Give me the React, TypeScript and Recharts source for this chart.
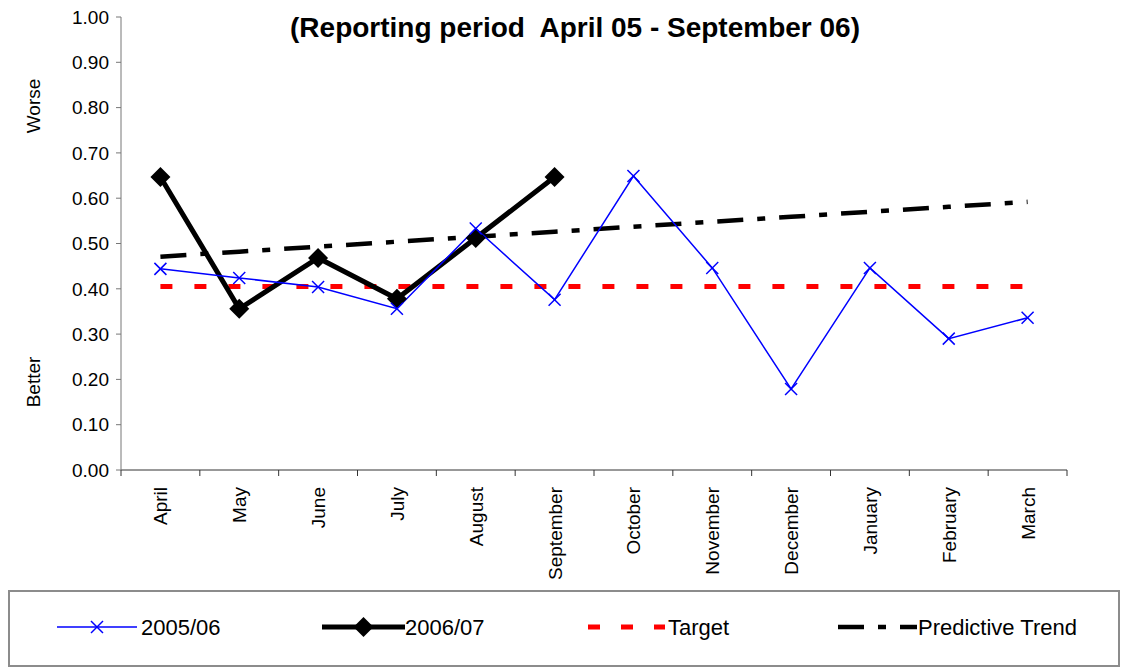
import { LineChart, Line, XAxis, YAxis, Legend } from 'recharts';

const months = ['April', 'May', 'June', 'July', 'August', 'September', 'October', 'November', 'December', 'January', 'February', 'March'];
const values0506 = [0.444, 0.424, 0.404, 0.356, 0.533, 0.376, 0.649, 0.446, 0.179, 0.446, 0.29, 0.336];
const values0607 = [0.647, 0.356, 0.468, 0.378, 0.512, 0.647, null, null, null, null, null, null];
const targetValues = [0.405, 0.405, 0.405, 0.405, 0.405, 0.405, 0.405, 0.405, 0.405, 0.405, 0.405, 0.405];
const trendValues = [0.471, 0.482, 0.493, 0.504, 0.515, 0.526, 0.537, 0.548, 0.559, 0.57, 0.581, 0.592];
const yTicks = [0, 0.1, 0.2, 0.3, 0.4, 0.5, 0.6, 0.7, 0.8, 0.9, 1.0];

const data = months.map((m, i) => ({
  month: m,
  s0506: values0506[i],
  s0607: values0607[i],
  target: targetValues[i],
  trend: trendValues[i],
}));

const FONT = '"Liberation Sans", Arial, sans-serif';
const BLUE = '#0000FF';
const RED = '#FF0000';
const TREND_DASH = '26 14 8 14';
const TARGET_DASH = '12 22';

function Cross(cx: number, cy: number, key?: string | number) {
  const s = 6;
  return (
    <g key={key}>
      <line x1={cx - s} y1={cy - s} x2={cx + s} y2={cy + s} stroke={BLUE} strokeWidth={1.5} />
      <line x1={cx - s} y1={cy + s} x2={cx + s} y2={cy - s} stroke={BLUE} strokeWidth={1.5} />
    </g>
  );
}

function Diamond(cx: number, cy: number, key?: string | number) {
  const s = 10;
  return (
    <path key={key} d={`M${cx},${cy - s}L${cx + s},${cy}L${cx},${cy + s}L${cx - s},${cy}Z`} fill="#000" />
  );
}

const crossDot = (p: any) => {
  if (p.cy == null || p.value == null) return <g key={p.index} />;
  return Cross(p.cx, p.cy, p.index);
};

const diamondDot = (p: any) => {
  if (p.cy == null || p.value == null) return <g key={p.index} />;
  return Diamond(p.cx, p.cy, p.index);
};

// category labels rotated, with tick marks on the category boundaries
const MonthTick = (props: any) => {
  const { x, y, payload, index, visibleTicksCount, width } = props;
  let half = Number(payload && payload.offset);
  if (!half || isNaN(half)) half = Number(width) / Number(visibleTicksCount) / 2;
  const tx = x + 7;
  const ty = y + 17;
  return (
    <g>
      {!isNaN(half) && <line x1={x - half} y1={y} x2={x - half} y2={y + 6} stroke="#333" strokeWidth={1} />}
      {!isNaN(half) && index === visibleTicksCount - 1 && (
        <line x1={x + half} y1={y} x2={x + half} y2={y + 6} stroke="#333" strokeWidth={1} />
      )}
      <text
        x={tx}
        y={ty}
        textAnchor="end"
        transform={`rotate(-90, ${tx}, ${ty})`}
        fontSize={19}
        fontFamily={FONT}
        fill="#000"
      >
        {payload.value}
      </text>
    </g>
  );
};

const legendItems = [
  { name: '2005/06', x: 49, len: 80, textX: 133 },
  { name: '2006/07', x: 314, len: 83, textX: 397 },
  { name: 'Target', x: 580, len: 77, textX: 660 },
  { name: 'Predictive Trend', x: 830, len: 79, textX: 910 },
];

const renderLegend = () => {
  const cy = 37;
  return (
    <div
      style={{
        width: 1112,
        height: 77,
        border: '2px solid #8c8c8c',
        boxSizing: 'border-box',
        position: 'relative',
        background: '#fff',
      }}
    >
      <svg width={1108} height={73} style={{ position: 'absolute', left: -2, top: -2, overflow: 'visible' }}>
        {legendItems.map((it, i) => {
          let sample;
          if (i === 0) {
            sample = (
              <g>
                <line x1={it.x} y1={cy} x2={it.x + it.len} y2={cy} stroke={BLUE} strokeWidth={1.5} />
                {Cross(it.x + it.len / 2, cy)}
              </g>
            );
          } else if (i === 1) {
            sample = (
              <g>
                <line x1={it.x} y1={cy} x2={it.x + it.len} y2={cy} stroke="#000" strokeWidth={5} />
                {Diamond(it.x + it.len / 2, cy)}
              </g>
            );
          } else if (i === 2) {
            sample = (
              <line x1={it.x} y1={cy} x2={it.x + it.len} y2={cy} stroke={RED} strokeWidth={5} strokeDasharray="12 21" />
            );
          } else {
            sample = (
              <line x1={it.x} y1={cy} x2={it.x + it.len} y2={cy} stroke="#000" strokeWidth={4.5} strokeDasharray={TREND_DASH} />
            );
          }
          return (
            <g key={it.name}>
              {sample}
              <text x={it.textX} y={cy + 8} fontSize={22} fontFamily={FONT} fill="#000">
                {it.name}
              </text>
            </g>
          );
        })}
      </svg>
    </div>
  );
};

export default function App() {
  return (
    <div style={{ position: 'absolute', left: 0, top: 0, width: 1127, height: 671, background: '#fff' }}>
      <LineChart
        width={1127}
        height={671}
        data={data}
        margin={{ top: 17, right: 60, bottom: 91, left: 61 }}
      >
        <XAxis
          dataKey="month"
          scale="band"
          interval={0}
          tickLine={false}
          tickSize={0}
          tickMargin={0}
          height={110}
          axisLine={{ stroke: '#333' }}
          tick={<MonthTick />}
        />
        <YAxis
          domain={[0, 1]}
          ticks={yTicks}
          width={60}
          tickSize={5}
          tickMargin={7}
          tickFormatter={(v: number) => v.toFixed(2)}
          axisLine={{ stroke: '#777' }}
          tickLine={{ stroke: '#777' }}
          tick={{ fontSize: 19, fontFamily: FONT, fill: '#000' }}
          interval={0}
        />
        <Line
          dataKey="target"
          stroke={RED}
          strokeWidth={5}
          strokeDasharray={TARGET_DASH}
          dot={false}
          activeDot={false}
          isAnimationActive={false}
        />
        <Line
          dataKey="trend"
          stroke="#000"
          strokeWidth={4.5}
          strokeDasharray={TREND_DASH}
          dot={false}
          activeDot={false}
          isAnimationActive={false}
        />
        <Line
          dataKey="s0607"
          stroke="#000"
          strokeWidth={5}
          dot={diamondDot}
          activeDot={false}
          isAnimationActive={false}
        />
        <Line
          dataKey="s0506"
          stroke={BLUE}
          strokeWidth={1.5}
          dot={crossDot}
          activeDot={false}
          isAnimationActive={false}
        />
        <Legend
          layout="horizontal"
          verticalAlign="middle"
          align="center"
          content={renderLegend}
          wrapperStyle={{ left: 8, top: 590, width: 1112, height: 77 }}
        />
      </LineChart>
      <svg
        width={1127}
        height={671}
        style={{ position: 'absolute', left: 0, top: 0, pointerEvents: 'none' }}
      >
        <text
          x={575}
          y={37}
          textAnchor="middle"
          fontSize={28}
          fontWeight="bold"
          fontFamily={FONT}
          style={{ whiteSpace: 'pre' }}
        >
          (Reporting period  April 05 - September 06)
        </text>
        <text x={40} y={106} textAnchor="middle" transform="rotate(-90, 40, 106)" fontSize={19} fontFamily={FONT}>
          Worse
        </text>
        <text x={40} y={382} textAnchor="middle" transform="rotate(-90, 40, 382)" fontSize={19} fontFamily={FONT}>
          Better
        </text>
      </svg>
    </div>
  );
}
